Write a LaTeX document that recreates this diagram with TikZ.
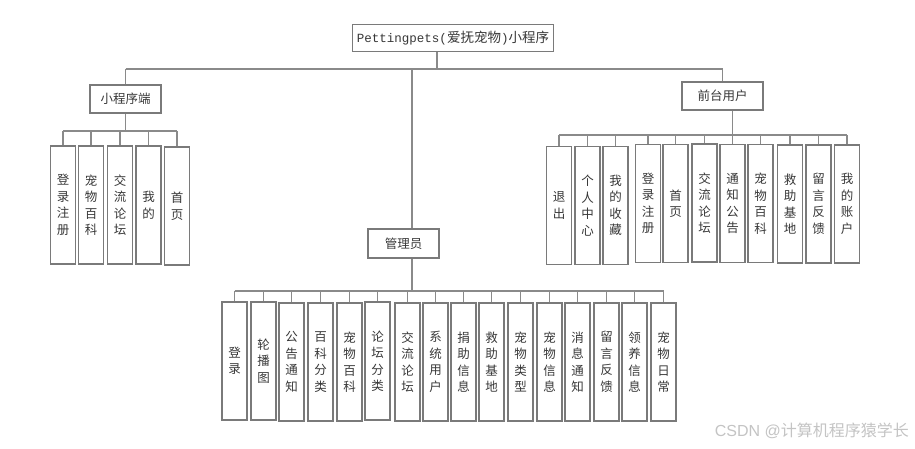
\documentclass[tikz,border=0pt]{standalone}
\usepackage{fontspec}
\newfontfamily\cjk{Noto Sans CJK SC}
\newfontfamily\monof{Liberation Mono}
\newfontfamily\wmfont{Liberation Sans}
\definecolor{lngray}{HTML}{8A8A8A}
\definecolor{bxgray}{HTML}{7A7A7A}
\definecolor{txt}{HTML}{383838}
\definecolor{wmc}{HTML}{C4C4C4}
\tikzset{
  ln/.style={draw=lngray, line width=1.2pt},
  hbox/.style={draw=bxgray, line width=1.3pt, fill=white, inner sep=0pt, text=txt,
    font=\cjk\fontsize{12.5}{14}\selectfont},
  vbox/.style={draw=bxgray, line width=1.4pt, fill=white, inner sep=0pt, text=txt,
    minimum width=25pt, minimum height=118pt, align=center,
    font=\cjk\fontsize{12.5}{16.5}\selectfont},
}
\begin{document}
\begin{tikzpicture}[x=1pt,y=-1pt]
\useasboundingbox[fill=white] (0,0) rectangle (915,448);
\coordinate (busTop) at (0,69);
\coordinate (busM) at (0,131);
\coordinate (busQ) at (0,135);
\coordinate (busA) at (0,291);

% root
\node[hbox, minimum width=201pt, minimum height=27pt] (root) at (453,38)
  {{\monof\fontsize{12.5}{14}\selectfont Pettingpets(}{\fontsize{13.5}{14}\selectfont 爱抚宠物}{\monof\fontsize{12.5}{14}\selectfont )}{\fontsize{13.5}{14}\selectfont 小程序}};

% level 2
\node[hbox, minimum width=71pt, minimum height=28pt] (m) at (125.5,99) {小程序端};
\node[hbox, minimum width=81pt, minimum height=28pt] (q) at (722.5,96) {前台用户};
\node[hbox, minimum width=71pt, minimum height=29pt] (g) at (403.5,243.5) {管理员};

% mini program children
\node[vbox] (m1) at (63,205) {登\\录\\注\\册};
\node[vbox] (m2) at (91,205) {宠\\物\\百\\科};
\node[vbox] (m3) at (120,205) {交\\流\\论\\坛};
\node[vbox] (m4) at (148.5,205) {我\\的};
\node[vbox] (m5) at (177,206) {首\\页};

% front user children
\node[vbox] (q1) at (559,205.5) {退\\出};
\node[vbox] (q2) at (587.5,205.5) {个\\人\\中\\心};
\node[vbox] (q3) at (615.5,205.5) {我\\的\\收\\藏};
\node[vbox] (q4) at (648,203.5) {登\\录\\注\\册};
\node[vbox] (q5) at (675.5,203.5) {首\\页};
\node[vbox] (q6) at (704.5,203) {交\\流\\论\\坛};
\node[vbox] (q7) at (732.5,203.5) {通\\知\\公\\告};
\node[vbox] (q8) at (760.5,203.5) {宠\\物\\百\\科};
\node[vbox] (q9) at (790,204) {救\\助\\基\\地};
\node[vbox] (q10) at (818.5,204) {留\\言\\反\\馈};
\node[vbox] (q11) at (847,204) {我\\的\\账\\户};

% admin children
\node[vbox] (a1) at (234.5,361) {登\\录};
\node[vbox] (a2) at (263.5,361) {轮\\播\\图};
\node[vbox] (a3) at (291.5,362) {公\\告\\通\\知};
\node[vbox] (a4) at (320.5,362) {百\\科\\分\\类};
\node[vbox] (a5) at (349.5,362) {宠\\物\\百\\科};
\node[vbox] (a6) at (377.5,361) {论\\坛\\分\\类};
\node[vbox] (a7) at (407.5,362) {交\\流\\论\\坛};
\node[vbox] (a8) at (435.5,362) {系\\统\\用\\户};
\node[vbox] (a9) at (463.5,362) {捐\\助\\信\\息};
\node[vbox] (a10) at (491.5,362) {救\\助\\基\\地};
\node[vbox] (a11) at (520.5,362) {宠\\物\\类\\型};
\node[vbox] (a12) at (549.5,362) {宠\\物\\信\\息};
\node[vbox] (a13) at (577.5,362) {消\\息\\通\\知};
\node[vbox] (a14) at (606.5,362) {留\\言\\反\\馈};
\node[vbox] (a15) at (634.5,362) {领\\养\\信\\息};
\node[vbox] (a16) at (663.5,362) {宠\\物\\日\\常};

% top-level connectors
\draw[ln] ([xshift=-16pt]root.south) -- ([xshift=-16pt]root.south |- busTop);
\draw[ln] (m.north |- busTop) -- (q.north |- busTop);
\draw[ln] (m.north |- busTop) -- (m.north);
\draw[ln] (q.north |- busTop) -- (q.north);
\draw[ln] ([xshift=8.5pt]g.north |- busTop) -- ([xshift=8.5pt]g.north);

% mini program connectors
\draw[ln] (m.south) -- (m.south |- busM);
\draw[ln] (m1.north |- busM) -- (m5.north |- busM);
\foreach \n in {m1,m2,m3,m4,m5} \draw[ln] (\n.north |- busM) -- (\n.north);

% front user connectors
\draw[ln] (q.south -| q7.north) -- (q7.north |- busQ);
\draw[ln] (q1.north |- busQ) -- (q11.north |- busQ);
\foreach \n in {q1,q2,q3,q4,q5,q6,q7,q8,q9,q10,q11} \draw[ln] (\n.north |- busQ) -- (\n.north);

% admin connectors
\draw[ln] ([xshift=8.5pt]g.south) -- ([xshift=8.5pt]g.south |- busA);
\draw[ln] (a1.north |- busA) -- (a16.north |- busA);
\foreach \n in {a1,a2,a3,a4,a5,a6,a7,a8,a9,a10,a11,a12,a13,a14,a15,a16} \draw[ln] (\n.north |- busA) -- (\n.north);

% watermark
\node[anchor=east, inner sep=0pt, text=wmc, font=\wmfont\fontsize{16}{16}\selectfont] (wm) at (909,431) {CSDN @{\cjk 计算机程序猿学长}};
\end{tikzpicture}
\end{document}
